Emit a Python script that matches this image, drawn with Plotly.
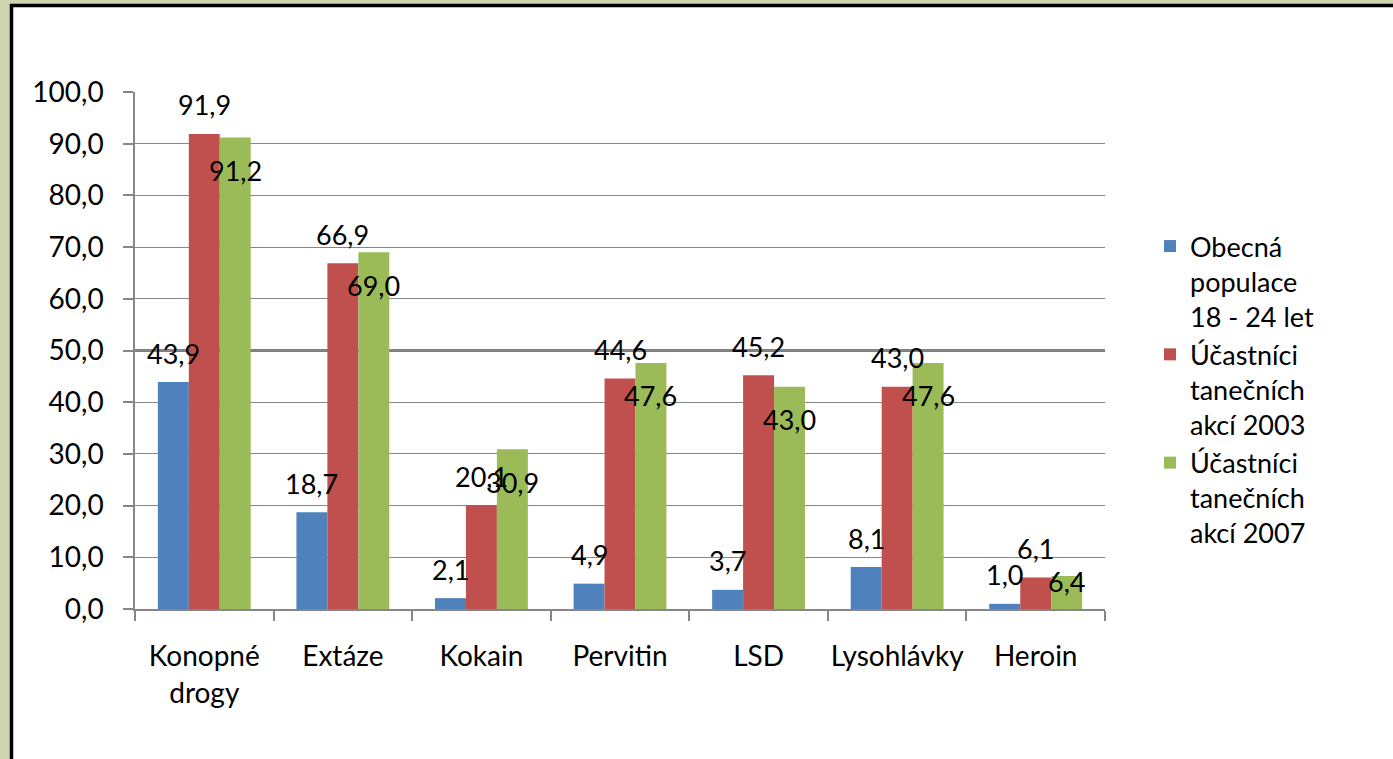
import plotly.graph_objects as go

categories = ["Konopné<br>drogy", "Extáze", "Kokain", "Pervitin", "LSD", "Lysohlávky", "Heroin"]
series_names = ["Obecná<br>populace<br>18 - 24 let", "Účastníci<br>tanečních<br>akcí 2003", "Účastníci<br>tanečních<br>akcí 2007"]
obecna = [43.9, 18.7, 2.1, 4.9, 3.7, 8.1, 1.0]
ucast_2003 = [91.9, 66.9, 20.1, 44.6, 45.2, 43.0, 6.1]
ucast_2007 = [91.2, 69.0, 30.9, 47.6, 43.0, 47.6, 6.4]
colors = ["#4F81BD", "#C0504D", "#9BBB59"]
y_ticks = [0, 10, 20, 30, 40, 50, 60, 70, 80, 90, 100]

FONT = "Lato"
FS = 28
FS_LABEL = 27

W, H = 1393, 759
L, R, T, B = 135, 288, 92, 150
pw, ph = W - L - R, H - T - B

fig = go.Figure()
all_series = [obecna, ucast_2003, ucast_2007]
for name, vals, col in zip(series_names, all_series, colors):
    fig.add_trace(go.Bar(x=categories, y=vals, name=name, marker=dict(color=col, line=dict(width=0)),
                         hoverinfo="skip"))

def fmt(v):
    return f"{v:.1f}".replace(".", ",")

bar_px = pw / len(categories) * 0.67 / 3
px_per_unit = ph / 100.0
annotations = []
for si, vals in enumerate(all_series):
    for cat, v in zip(categories, vals):
        if si == 2:
            ys = -min(33, max(6, v * px_per_unit - 27))
        else:
            ys = 29
        annotations.append(dict(
            x=cat, y=v, xref="x", yref="y", text=fmt(v), showarrow=False,
            xshift=(si - 1) * bar_px, yshift=ys,
            font=dict(family=FONT, size=FS_LABEL, color="black"),
        ))

def px_to_paper_x(px):
    return (px - L) / pw

def px_to_paper_y(py):
    return (H - B - py) / ph

shapes = [
    dict(type="rect", xref="paper", yref="paper",
         x0=px_to_paper_x(11.5), x1=px_to_paper_x(1420),
         y0=px_to_paper_y(790), y1=px_to_paper_y(5.5),
         fillcolor="white", line=dict(color="black", width=3.5), layer="below"),
    dict(type="line", xref="paper", yref="y", x0=0, x1=1, y0=50, y1=50,
         line=dict(color="#7f7f7f", width=3), layer="below"),
]

fig.update_layout(
    width=W, height=H,
    margin=dict(l=L, r=R, t=T, b=B, autoexpand=False),
    paper_bgcolor="#cfd4ae",
    plot_bgcolor="rgba(0,0,0,0)",
    barmode="group", bargap=0.33, bargroupgap=0,
    separators=",.",
    font=dict(family=FONT, size=FS, color="black"),
    showlegend=True,
    legend=dict(x=px_to_paper_x(1150), y=px_to_paper_y(222), xanchor="left", yanchor="top",
                valign="top", font=dict(family=FONT, size=27, color="black"),
                bgcolor="rgba(0,0,0,0)", tracegroupgap=0, itemwidth=30),
    annotations=annotations,
    shapes=shapes,
    xaxis=dict(showline=True, linecolor="#868686", linewidth=1.5, ticks="outside", tickson="boundaries",
               ticklen=10, tickcolor="#868686", tickwidth=1.5, showgrid=False, automargin=False,
               tickangle=0, ticklabelstandoff=22, tickfont=dict(family=FONT, size=FS)),
    yaxis=dict(range=[0, 100], tickvals=y_ticks, tickformat=".1f", showline=True,
               linecolor="#868686", linewidth=1.5, ticks="outside", ticklen=10,
               tickcolor="#868686", tickwidth=1.5, showgrid=True, gridcolor="#868686",
               gridwidth=1, zeroline=False, ticklabelstandoff=14, automargin=False,
               tickfont=dict(family=FONT, size=FS)),
)

fig.write_html("out.html", config={"displayModeBar": False},
               post_script="document.body.style.margin='0';document.body.style.overflow='hidden';")
